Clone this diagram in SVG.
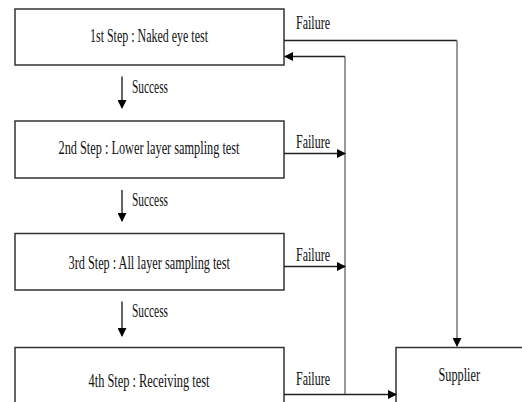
<svg xmlns="http://www.w3.org/2000/svg" width="522" height="402" viewBox="0 0 522 402">
<defs>
<style>
.box{fill:#fff;stroke:#333;stroke-width:1.5}
.ln{fill:none;stroke:#222;stroke-width:1.4}
.vl{fill:none;stroke:#777;stroke-width:1.5}
.t{font-family:"Liberation Serif",serif;font-size:19px;fill:#111}
</style>
<marker id="ah" markerWidth="9" markerHeight="9" refX="8" refY="4.5" orient="auto" markerUnits="userSpaceOnUse">
<path d="M0,0 L9,4.5 L0,9 Z" fill="#000"/>
</marker>
</defs>
<rect width="522" height="402" fill="#fff"/>
<g id="step1">
<rect class="box" x="15" y="9" width="269" height="56"/>
<text class="t" x="90" y="41.5" textLength="118" lengthAdjust="spacingAndGlyphs">1st Step : Naked eye test</text>
</g>
<g id="step2">
<rect class="box" x="15" y="121" width="269" height="57"/>
<text class="t" x="58.5" y="154" textLength="181" lengthAdjust="spacingAndGlyphs">2nd Step : Lower layer sampling test</text>
</g>
<g id="step3">
<rect class="box" x="15" y="233.5" width="269" height="56.5"/>
<text class="t" x="68.5" y="268.5" textLength="161.5" lengthAdjust="spacingAndGlyphs">3rd Step : All layer sampling test</text>
</g>
<g id="step4">
<rect class="box" x="15" y="347.5" width="269" height="60"/>
<text class="t" x="88.5" y="387" textLength="121" lengthAdjust="spacingAndGlyphs">4th Step : Receiving test</text>
</g>
<g id="supplier">
<rect class="box" x="396" y="347.5" width="140" height="60"/>
<text class="t" x="438.5" y="380.5" textLength="41.5" lengthAdjust="spacingAndGlyphs">Supplier</text>
</g>
<g id="connectors">
<line class="ln" x1="122" y1="76.5" x2="122" y2="108" marker-end="url(#ah)"/>
<line class="ln" x1="122" y1="190" x2="122" y2="221" marker-end="url(#ah)"/>
<line class="ln" x1="122" y1="301.5" x2="122" y2="336" marker-end="url(#ah)"/>
<text class="t" x="132" y="93" textLength="36" lengthAdjust="spacingAndGlyphs">Success</text>
<text class="t" x="132" y="206" textLength="36" lengthAdjust="spacingAndGlyphs">Success</text>
<text class="t" x="132" y="316.5" textLength="36" lengthAdjust="spacingAndGlyphs">Success</text>
<polyline class="ln" points="284,40.5 457,40.5"/>
<line class="vl" x1="457" y1="40.5" x2="457" y2="346" marker-end="url(#ah)"/>
<line class="vl" x1="345" y1="56.5" x2="345" y2="394.5"/>
<line class="ln" x1="345" y1="56.5" x2="285" y2="56.5" marker-end="url(#ah)"/>
<line class="ln" x1="284" y1="153.5" x2="345" y2="153.5" marker-end="url(#ah)"/>
<line class="ln" x1="284" y1="266.5" x2="345" y2="266.5" marker-end="url(#ah)"/>
<line class="ln" x1="284" y1="394.5" x2="396" y2="394.5" marker-end="url(#ah)"/>
<text class="t" x="296" y="28.5" textLength="34" lengthAdjust="spacingAndGlyphs">Failure</text>
<text class="t" x="296" y="147.5" textLength="34" lengthAdjust="spacingAndGlyphs">Failure</text>
<text class="t" x="296" y="260.5" textLength="34" lengthAdjust="spacingAndGlyphs">Failure</text>
<text class="t" x="296" y="385" textLength="34" lengthAdjust="spacingAndGlyphs">Failure</text>
</g>
</svg>
